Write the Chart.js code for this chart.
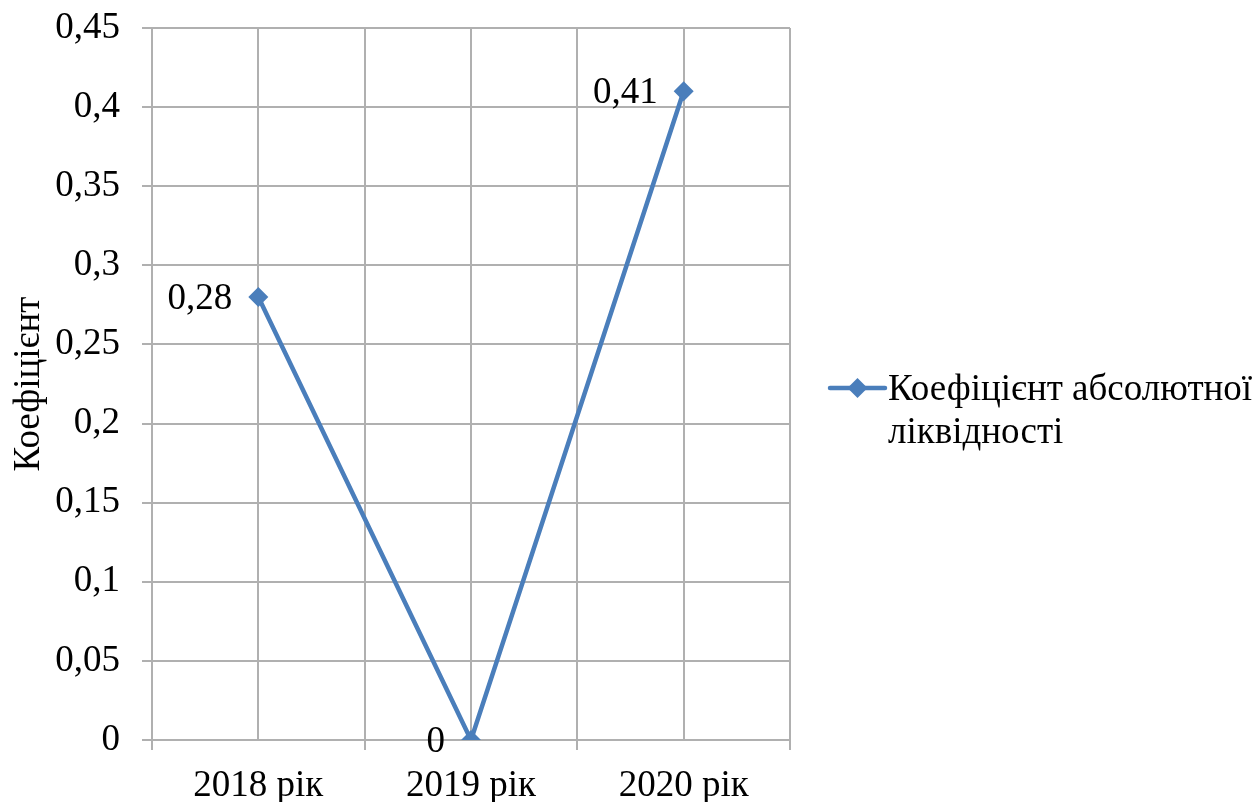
<!DOCTYPE html>
<html>
<head>
<meta charset="utf-8">
<script src="https://cdn.jsdelivr.net/npm/chart.js@4/dist/chart.umd.min.js"></script>
<style>
  html, body { margin: 0; padding: 0; background: #ffffff; }
  #wrap { width: 1260px; height: 802px; }
</style>
</head>
<body>
<div id="wrap"><canvas id="chart" width="1260" height="802"></canvas></div>
<script>
// Years on the category axis
const categories = ['2018 рік', '2019 рік', '2020 рік'];
// Absolute liquidity ratio per year
const seriesName = 'Коефіцієнт абсолютної ліквідності';
const ratioValues = [0.28, 0, 0.41];
// Value axis labels
const yTicks = [0, 0.05, 0.1, 0.15, 0.2, 0.25, 0.3, 0.35, 0.4, 0.45];
const yTitle = 'Коефіцієнт';

const FONT = 'Liberation Serif';
const FSIZE = 37;
const BLUE = '#4A7EBB';
const GRID = '#b0b0b0';

const fmt = v => String(Number(v.toFixed(2))).replace('.', ',');

// Value labels to the left of each marker
const valueLabels = {
  id: 'valueLabels',
  afterDatasetsDraw(chart) {
    const ctx = chart.ctx;
    const meta = chart.getDatasetMeta(0);
    ctx.save();
    ctx.font = FSIZE + 'px "' + FONT + '"';
    ctx.fillStyle = '#000';
    ctx.textAlign = 'right';
    ctx.textBaseline = 'middle';
    meta.data.forEach((pt, i) => {
      const v = chart.data.datasets[0].data[i];
      ctx.fillText(fmt(v), pt.x - 26, pt.y + 2);
    });
    ctx.restore();
  }
};

// Legend on the right, wrapped over two lines
const sideLegend = {
  id: 'sideLegend',
  afterDraw(chart) {
    const ctx = chart.ctx;
    const ds = chart.data.datasets[0];
    const x0 = 830, x1 = 885, y = 388, tx = 888, maxW = 380, lh = 43;
    ctx.save();
    ctx.strokeStyle = ds.borderColor;
    ctx.lineWidth = 4.5;
    ctx.lineCap = 'round';
    ctx.beginPath();
    ctx.moveTo(x0, y);
    ctx.lineTo(x1, y);
    ctx.stroke();
    ctx.fillStyle = ds.backgroundColor;
    ctx.beginPath();
    const r = 10, cx = (x0 + x1) / 2;
    ctx.moveTo(cx, y - r); ctx.lineTo(cx + r, y); ctx.lineTo(cx, y + r); ctx.lineTo(cx - r, y);
    ctx.closePath();
    ctx.fill();
    ctx.font = FSIZE + 'px "' + FONT + '"';
    ctx.fillStyle = '#000';
    ctx.textAlign = 'left';
    ctx.textBaseline = 'alphabetic';
    const words = ds.label.split(' ');
    const lines = [];
    let cur = '';
    words.forEach(w => {
      const t = cur ? cur + ' ' + w : w;
      if (ctx.measureText(t).width > maxW && cur) { lines.push(cur); cur = w; } else { cur = t; }
    });
    if (cur) lines.push(cur);
    lines.forEach((ln, i) => ctx.fillText(ln, tx, 400 + i * lh));
    ctx.restore();
  }
};

new Chart(document.getElementById('chart'), {
  type: 'line',
  data: {
    labels: categories,
    datasets: [{
      label: seriesName,
      data: ratioValues,
      borderColor: BLUE,
      backgroundColor: BLUE,
      borderWidth: 4.5,
      pointStyle: 'rectRot',
      pointRadius: 10,
      pointBorderWidth: 0,
      pointBackgroundColor: BLUE,
      tension: 0,
      xAxisID: 'x',
      yAxisID: 'y'
    }]
  },
  options: {
    responsive: false,
    animation: false,
    layout: { padding: { left: 0, top: 28, right: 470, bottom: 0 } },
    plugins: { legend: { display: false }, tooltip: { enabled: false } },
    scales: {
      x: {
        type: 'category',
        position: 'bottom',
        offset: true,
        grid: { offset: true, color: GRID, lineWidth: 2, tickLength: 10, tickColor: GRID, drawOnChartArea: true },
        border: { color: GRID, width: 2 },
        ticks: { color: '#000', font: { family: FONT, size: FSIZE }, padding: 14, maxRotation: 0, autoSkip: false },
        afterFit(s) { s.height = 62; s.paddingLeft = 0; s.paddingRight = 0; }
      },
      xCenter: {
        type: 'category',
        position: 'bottom',
        offset: true,
        grid: { offset: false, color: GRID, lineWidth: 2, drawTicks: false },
        border: { display: false },
        ticks: { display: false },
        afterFit(s) { s.height = 0; }
      },
      y: {
        type: 'linear',
        min: 0,
        max: 0.45,
        afterBuildTicks(s) { s.ticks = yTicks.map(v => ({ value: v })); },
        grid: { color: GRID, lineWidth: 2, tickLength: 10, tickColor: GRID },
        border: { color: GRID, width: 2 },
        ticks: { color: '#000', font: { family: FONT, size: FSIZE }, padding: 22, callback: v => fmt(v) },
        title: { display: true, text: yTitle, color: '#000', font: { family: FONT, size: FSIZE }, padding: { top: 7, bottom: 0 } },
        afterFit(s) { s.width = 152; s.paddingTop = 0; s.paddingBottom = 0; }
      }
    }
  },
  plugins: [valueLabels, sideLegend]
});
</script>
</body>
</html>
